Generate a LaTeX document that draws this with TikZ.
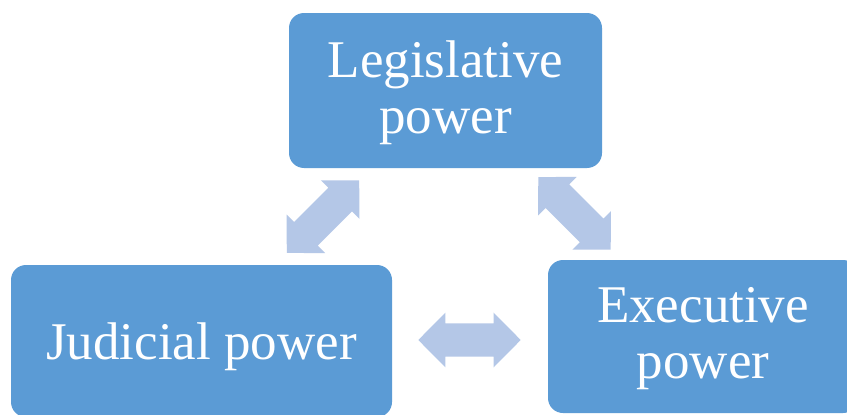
\documentclass[tikz,border=0pt]{standalone}
\usepackage{fontspec}
\setmainfont{Liberation Serif}
\definecolor{boxblue}{HTML}{5B9BD5}
\definecolor{arrowblue}{HTML}{B4C7E7}
\tikzset{
  powerbox/.style={fill=boxblue, draw=none, rounded corners=15pt, text=white,
    align=center, inner sep=0pt, font=\fontsize{53}{56}\selectfont},
  blockarrow/.style={fill=arrowblue, draw=none}
}
\newcommand{\dblarrowpath}{(-51.2,0) -- (-24.2,-27.3) -- (-24.2,-16.7) -- (24.2,-16.7) -- (24.2,-27.3) -- (51.2,0) -- (24.2,27.3) -- (24.2,16.7) -- (-24.2,16.7) -- (-24.2,27.3) -- cycle}
\begin{document}
\begin{tikzpicture}[x=1pt,y=-1pt]
  \useasboundingbox (0,0) rectangle (847,415);
  \clip (0,0) rectangle (847,415);
  \fill[white] (0,0) rectangle (847,415);
  % boxes
  \node[powerbox, minimum width=313pt, minimum height=155pt] (leg) at (445.5,90.5) {\rule{0pt}{42pt}Legislative\\power};
  \node[powerbox, minimum width=381pt, minimum height=152pt, text depth=0pt] (jud) at (201.5,341) {Judicial power};
  \node[powerbox, minimum width=310pt, minimum height=153pt] (exe) at (703,336.5) {\rule{0pt}{40pt}Executive\\power};
  % block double arrows
  \coordinate (aleft) at (323,216.7);
  \coordinate (aright) at (574.5,213.3);
  \coordinate (abottom) at (469.5,340);
  \begin{scope}[shift={(aleft)}, rotate=45]
    \fill[blockarrow] \dblarrowpath;
  \end{scope}
  \begin{scope}[shift={(aright)}, rotate=-45]
    \fill[blockarrow] \dblarrowpath;
  \end{scope}
  \begin{scope}[shift={(abottom)}]
    \fill[blockarrow] \dblarrowpath;
  \end{scope}
\end{tikzpicture}
\end{document}
